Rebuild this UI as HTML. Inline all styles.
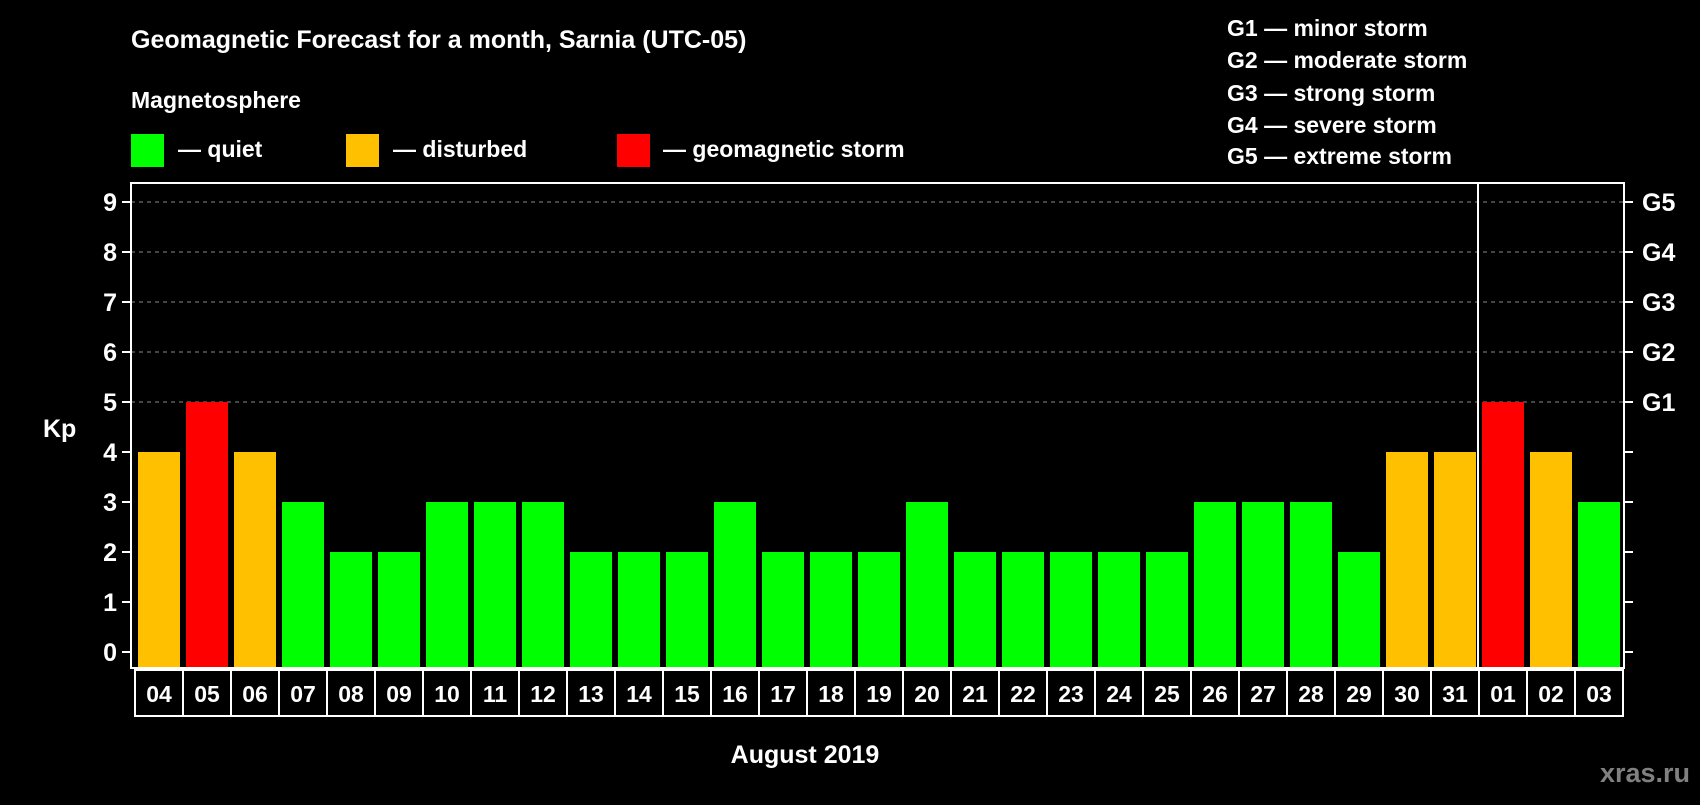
<!DOCTYPE html>
<html><head><meta charset="utf-8"><style>
body{margin:0;background:#000;width:1700px;height:800px;overflow:hidden}
svg text{font-family:"Liberation Sans",Arial,sans-serif;font-weight:bold;fill:#fff}
</style></head><body>
<svg id="c" width="1700" height="800">
<text x="131" y="48" font-size="25">Geomagnetic Forecast for a month, Sarnia (UTC-05)</text>
<text x="131" y="108" font-size="23">Magnetosphere</text>
<g><rect x="131" y="134" width="33" height="33" fill="#00ff00"/><text x="178" y="157" font-size="23">— quiet</text></g>
<g><rect x="346" y="134" width="33" height="33" fill="#ffc000"/><text x="393" y="157" font-size="23">— disturbed</text></g>
<g><rect x="617" y="134" width="33" height="33" fill="#ff0000"/><text x="663" y="157" font-size="23">— geomagnetic storm</text></g>
<g font-size="23">
<text x="1227" y="36">G1 — minor storm</text>
<text x="1227" y="68">G2 — moderate storm</text>
<text x="1227" y="101">G3 — strong storm</text>
<text x="1227" y="133">G4 — severe storm</text>
<text x="1227" y="164">G5 — extreme storm</text>
</g>
<text x="43" y="437" font-size="25">Kp</text>
<text x="805" y="763" font-size="25" text-anchor="middle">August 2019</text>
<text x="1690" y="782" font-size="27" text-anchor="end" style="fill:#808080">xras.ru</text>
<g id="plot"></g>
</svg>
<script>
const days=["04","05","06","07","08","09","10","11","12","13","14","15","16","17","18","19","20","21","22","23","24","25","26","27","28","29","30","31","01","02","03"];
const kp=[4,5,4,3,2,2,3,3,3,2,2,2,3,2,2,2,3,2,2,2,2,2,3,3,3,2,4,4,5,4,3];
const yTicks=[0,1,2,3,4,5,6,7,8,9];
const gLabels=["G1","G2","G3","G4","G5"];
const NS="http://www.w3.org/2000/svg";
const g=document.getElementById('plot');
const L=131,R=1624,T=183,B=668,x0=137,pitch=48,bw=42;
const y=v=>652-v*50;
const x=i=>x0+i*pitch;
function mk(t,a){const e=document.createElementNS(NS,t);for(const k in a)e.setAttribute(k,a[k]);g.appendChild(e);return e;}
yTicks.forEach(v=>{
  if(v>=5){const l=mk('line',{x1:L,x2:R,y1:y(v),y2:y(v),stroke:'#888','stroke-dasharray':'4,4','stroke-width':1});
  
  }
  mk('line',{x1:L-9,x2:L,y1:y(v),y2:y(v),stroke:'#fff','stroke-width':2});
  mk('line',{x1:R,x2:R+9,y1:y(v),y2:y(v),stroke:'#fff','stroke-width':2});
  const t=mk('text',{x:L-14,y:y(v)+9,'font-size':25,'text-anchor':'end'});t.textContent=v;
  
  
});
gLabels.forEach((s,i)=>{const t=mk('text',{x:1642,y:y(5+i)+9,'font-size':25});t.textContent=s;
  
  });
kp.forEach((v,i)=>{
  const c=v>=5?'#ff0000':v>=4?'#ffc000':'#00ff00';
  const r=mk('rect',{x:x(i)+1,y:y(v),width:bw,height:y(0)+15-y(v),fill:c});
  
  
  const b=mk('rect',{x:x(i)-2,y:670,width:pitch,height:46,fill:'none',stroke:'#fff','stroke-width':2});
  
  
  const t=mk('text',{x:x(i)+22,y:702,'font-size':23,'text-anchor':'middle'});t.textContent=days[i];
  
  
});
const f=mk('rect',{x:L,y:T,width:R-L,height:B-T,fill:'none',stroke:'#fff','stroke-width':2});


const si=days.indexOf("01");
const sep=mk('line',{x1:x(si)-3,x2:x(si)-3,y1:T,y2:B,stroke:'#fff','stroke-width':2});


</script>
</body></html>
